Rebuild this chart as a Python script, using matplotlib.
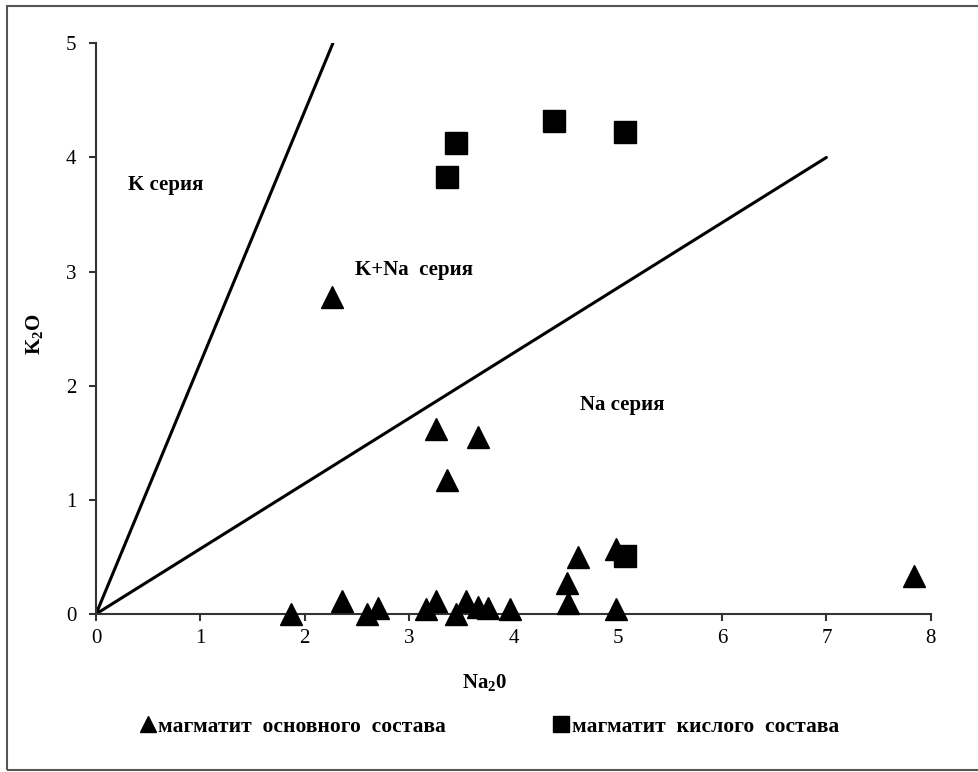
import matplotlib
matplotlib.use("Agg")
import matplotlib.pyplot as plt
from matplotlib.lines import Line2D
from matplotlib.patches import Rectangle

plt.rcParams['font.family'] = ['Liberation Serif', 'DejaVu Serif']
plt.rcParams['mathtext.fontset'] = 'custom'
plt.rcParams['mathtext.rm'] = 'Liberation Serif'
plt.rcParams['mathtext.bf'] = 'Liberation Serif:bold'

# магматит основного состава (треугольники)
basic_na2o = [2.26, 3.26, 3.66, 3.36, 1.87, 2.36, 2.60, 2.70, 3.16, 3.26, 3.45,
              3.55, 3.66, 3.76, 3.97, 4.52, 4.51, 4.62, 4.98, 4.98, 7.84]
basic_k2o = [2.78, 1.62, 1.55, 1.17, 0.00, 0.11, 0.00, 0.05, 0.04, 0.11, 0.00,
             0.11, 0.06, 0.05, 0.04, 0.10, 0.27, 0.50, 0.57, 0.04, 0.33]

# магматит кислого состава (квадраты)
acid_na2o = [3.36, 3.45, 4.39, 5.07, 5.07]
acid_k2o = [3.83, 4.13, 4.32, 4.22, 0.51]

# разделительные линии серий
k_line_x = [0, 2.27]
k_line_y = [0, 5]
na_line_x = [0, 7]
na_line_y = [0, 4]

series_labels = ['K серия', 'K+Na  серия', 'Na серия']
series_x = [0.31, 2.48, 4.64]
series_y = [3.76, 3.01, 1.83]

fig = plt.figure(figsize=(9.79, 7.72), dpi=100)
ax = fig.add_axes([0.0981, 0.2047, 0.8526, 0.7392])

ax.plot(k_line_x, k_line_y, color='black', linewidth=2.2, solid_capstyle='round')
ax.plot(na_line_x, na_line_y, color='black', linewidth=2.2, solid_capstyle='round')

ax.plot(basic_na2o, basic_k2o, linestyle='none', marker='^', markersize=16,
        color='black', clip_on=False, zorder=3)
ax.plot(acid_na2o, acid_k2o, linestyle='none', marker='s', markersize=15.5,
        color='black', clip_on=False, zorder=3)

for lab, x, y in zip(series_labels, series_x, series_y):
    ax.text(x, y, lab, fontsize=15, fontweight='bold', ha='left', va='center')

ax.set_xlim(0, 8)
ax.set_ylim(0, 5)
ax.set_xticks(range(0, 9))
ax.set_yticks(range(0, 6))
ax.spines['top'].set_visible(False)
ax.spines['right'].set_visible(False)
for s in ['left', 'bottom']:
    ax.spines[s].set_linewidth(1.5)
    ax.spines[s].set_color('#333333')
ax.tick_params(direction='out', length=5, width=1.5, color='#333333',
               labelsize=15)
ax.tick_params(axis='y', pad=9)
ax.tick_params(axis='x', pad=6)

ax.set_xlabel(r'$\mathbf{Na_{2}0}$', fontsize=15)
ax.xaxis.set_label_coords(0.465, -0.102)
ax.set_ylabel(r'$\mathbf{K_{2}O}$', fontsize=15)
ax.yaxis.set_label_coords(-0.061, 0.49)

# легенда внизу
leg_font = {'size': 15.5, 'weight': 'bold'}
leg1 = fig.legend([Line2D([], [], linestyle='none', marker='^', markersize=12, color='black')],
                  ['магматит  основного  состава'], loc='center left',
                  bbox_to_anchor=(139 / 979, 0.0585), frameon=False, borderaxespad=0,
                  borderpad=0, handlelength=0.8, handletextpad=0.1, prop=leg_font)
leg2 = fig.legend([Line2D([], [], linestyle='none', marker='s', markersize=11, color='black')],
                  ['магматит  кислого  состава'], loc='center left',
                  bbox_to_anchor=(552 / 979, 0.0585), frameon=False, borderaxespad=0,
                  borderpad=0, handlelength=0.8, handletextpad=0.15, prop=leg_font)

# рамка вокруг рисунка
fig.patches.append(Rectangle((7 / 979, 2 / 772), 1.05, 764 / 772, transform=fig.transFigure,
                             fill=False, edgecolor='#555555', linewidth=1.5))

fig.savefig('out.png', dpi=100)
